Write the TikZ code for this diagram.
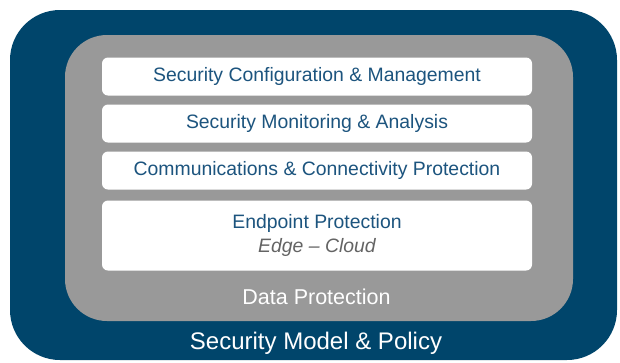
\documentclass[tikz,border=0pt]{standalone}
\usepackage{fontspec}
\setmainfont{Liberation Sans}
\usetikzlibrary{positioning}
\usepackage{xcolor}
\definecolor{policyblue}{RGB}{0,69,107}
\definecolor{datagray}{RGB}{153,153,153}
\definecolor{textblue}{RGB}{28,84,126}
\definecolor{notegray}{RGB}{100,100,100}

\begin{document}
\begin{tikzpicture}[
  x=1pt, y=-1pt,
  node distance=9pt,
  layer/.style={inner sep=0pt, outer sep=0pt},
  box/.style={fill=white, rounded corners=6pt, inner sep=0pt, outer sep=0pt,
              minimum width=430pt, minimum height=38pt, align=center,
              text=textblue, font=\fontsize{19.4}{25}\selectfont},
  lbl/.style={inner sep=0pt, text=white, anchor=base}
]
\useasboundingbox (0,0) rectangle (620,362);
\node[layer, fill=policyblue, rounded corners=50pt,
      minimum width=607pt, minimum height=350pt] (policy) at (313.5,185) {};
\node[layer, fill=datagray, rounded corners=42pt,
      minimum width=508pt, minimum height=286pt] (data) at (319,178) {};
\node[box] (config) at (317,76.5) {Security Configuration \& Management};
\node[box, below=of config] (monitor) {Security Monitoring \& Analysis};
\node[box, below=of monitor] (comms) {Communications \& Connectivity Protection};
\node[box, below=11pt of comms, minimum height=70pt] (endpoint)
  {Endpoint Protection\\[-1pt]{\color{notegray}\itshape Edge -- Cloud}};
\node[lbl, font=\fontsize{21.5}{26}\selectfont] (datatxt) at (316.5,304) {Data Protection};
\node[lbl, font=\fontsize{24}{28}\selectfont] (policytxt) at (316,349) {Security Model \& Policy};
\end{tikzpicture}
\end{document}
